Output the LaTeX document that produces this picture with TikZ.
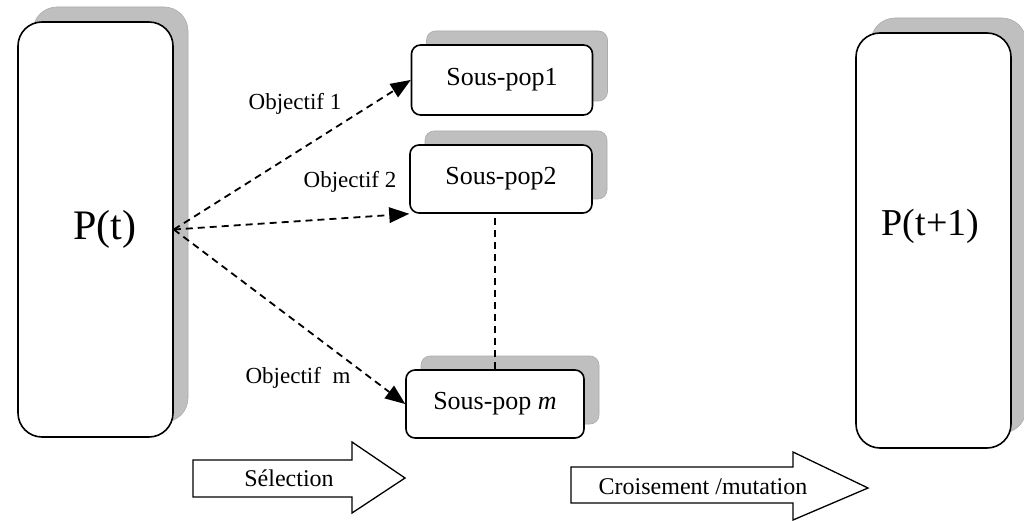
\documentclass[tikz,border=0pt]{standalone}
\usepackage{fontspec}
\setmainfont{Liberation Serif}
\usetikzlibrary{shadows,arrows.meta}
\begin{document}
\begin{tikzpicture}[x=1pt,y=-1pt,
  popbox/.style={draw=black, line width=1.6pt, fill=white, rounded corners=24pt,
    minimum width=155pt, minimum height=415pt, inner sep=0pt,
    general shadow={shadow xshift=15pt, shadow yshift=15pt, fill=gray!50, draw=gray!65, line width=0.6pt}},
  subbox/.style={draw=black, line width=1.6pt, fill=white, rounded corners=9pt,
    minimum height=68pt, inner sep=0pt, font=\fontsize{26}{30}\selectfont,
    general shadow={shadow xshift=15pt, shadow yshift=14pt, fill=gray!50, draw=gray!65, line width=0.6pt}},
  selarrow/.style={dashed, dash pattern=on 7pt off 5pt, line width=1.8pt,
    -{Triangle[length=20pt,width=16pt,line width=0pt]}},
  objlabel/.style={font=\fontsize{23}{27}\selectfont, inner sep=0pt},
  blockarrow/.style={draw=black, line width=1.3pt, fill=white},
  blocklabel/.style={font=\fontsize{24}{28}\selectfont, inner sep=0pt}
]
\useasboundingbox (0,0) rectangle (1024,521);
\fill[white] (0,0) rectangle (1024,521);

% populations
\node[popbox, label={[xshift=9pt, font=\fontsize{42}{46}\selectfont]center:P(t)}] (pt) at (95.5,229.5) {};
\node[popbox, label={[xshift=-3pt, yshift=14pt, font=\fontsize{38}{42}\selectfont]center:P(t+1)}] (pt1) at (933.5,240.5) {};

% sub-populations
\node[subbox, minimum width=181pt, minimum height=70pt] (sp1) at (502,80) {Sous-pop1};
\node[subbox, minimum width=182pt] (sp2) at (501,179) {Sous-pop2};
\node[subbox, minimum width=178pt] (spm) at (495,404) {Sous-pop \textit{m}};

% selection per objective
\draw[selarrow] (pt.east) -- (sp1.west);
\draw[selarrow] (pt.east) -- (sp2.south west);
\draw[selarrow] (pt.east) -- (spm.west);
\draw[dashed, dash pattern=on 7pt off 5pt, line width=1.5pt] (spm.north) -- (spm.north |- sp2.south);

\node[objlabel] (o1) at (295,104) {Objectif 1};
\node[objlabel] (o2) at (350,182) {Objectif 2};
\node[objlabel] (om) at (298,378) {Objectif\ \ m};

% operator arrows
\draw[blockarrow] (193,460) -- (352,460) -- (352,442) -- (405,478) -- (352,513) -- (352,497) -- (193,497) -- cycle;
\node[blocklabel] (sel) at (289,478) {Sélection};

\draw[blockarrow] (571,467) -- (793,467) -- (793,452) -- (868,488) -- (793,520) -- (793,503) -- (571,503) -- cycle;
\node[blocklabel] (cm) at (703,487) {Croisement /mutation};
\end{tikzpicture}
\end{document}
